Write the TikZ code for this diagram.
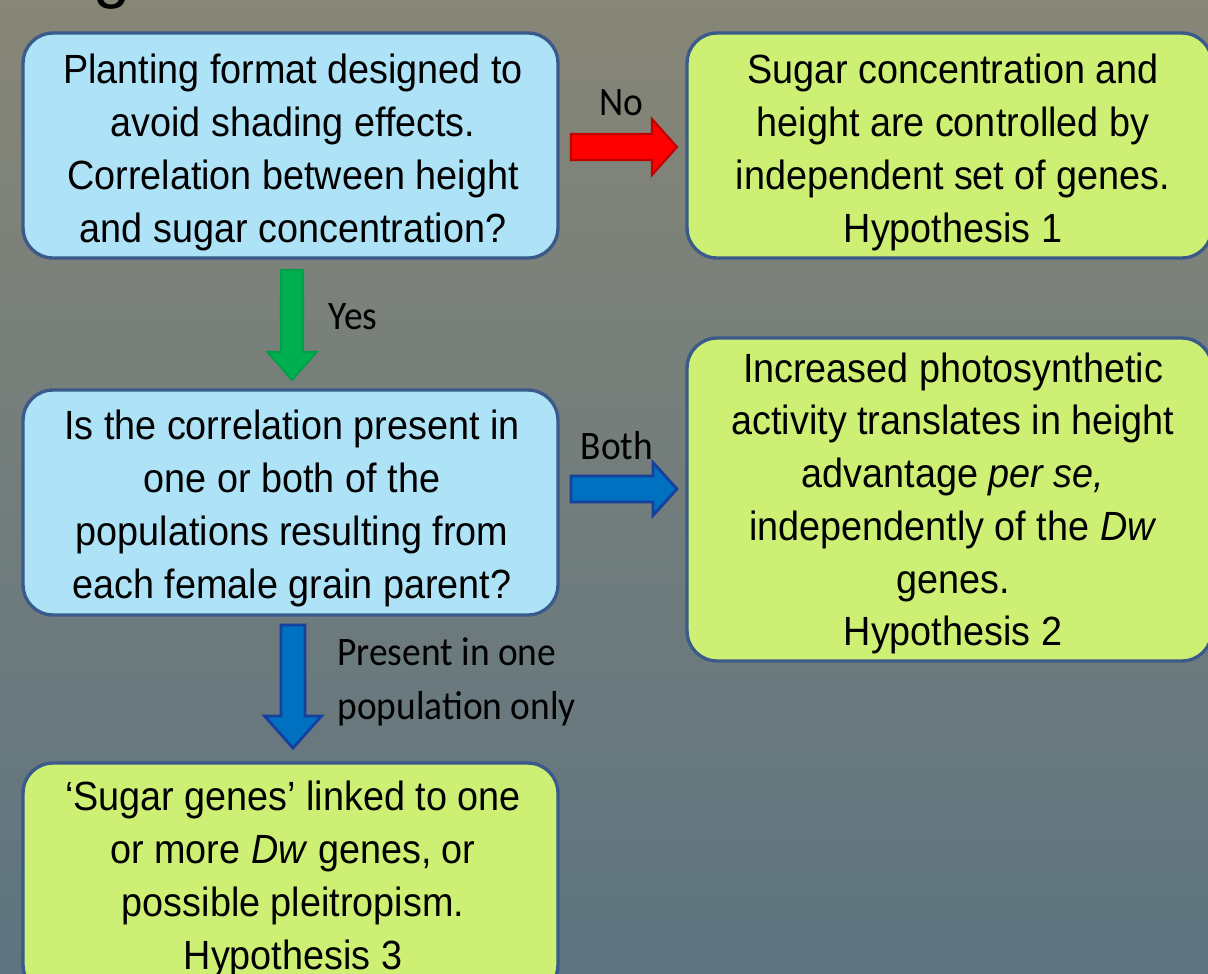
\documentclass[tikz,border=0pt]{standalone}
\usepackage{fontspec}
\setmainfont{Liberation Sans}
\newfontfamily\lblfont{Carlito}
\usetikzlibrary{shadows}
\definecolor{bgtop}{HTML}{878677}
\definecolor{bgmid}{HTML}{747B7A}
\definecolor{bgbot}{HTML}{5E7480}
\definecolor{boxborder}{HTML}{3A5B8A}
\definecolor{bluefill}{HTML}{ADE2F7}
\definecolor{greenfill}{HTML}{CDF074}
\definecolor{redfill}{HTML}{FF0000}
\definecolor{redline}{HTML}{C00000}
\definecolor{grnfill}{HTML}{00B050}
\definecolor{grnline}{HTML}{00A048}
\definecolor{bluarrfill}{HTML}{0070C0}
\definecolor{bluarrline}{HTML}{16409E}
\newcommand{\boxtext}[1]{\scalebox{1}[1.08]{\begin{tabular}{@{}c@{}}#1\end{tabular}}}
\newcommand{\lbltext}[1]{\scalebox{1}[1.08]{\begin{tabular}{@{}l@{}}#1\end{tabular}}}
\begin{document}
\begin{tikzpicture}[x=0.02cm, y=-0.02cm,
  boxbase/.style={draw=boxborder, line width=1.9pt, rounded corners=0.6cm,
    drop shadow={shadow xshift=0pt, shadow yshift=-0.07cm, opacity=0.35}},
  bluebox/.style={boxbase, fill=bluefill},
  greenbox/.style={boxbase, fill=greenfill},
  boxtxt/.style={font=\fontsize{21.5}{27.8}\selectfont, inner sep=0pt},
  lbl/.style={font=\lblfont\fontsize{21.3}{28.3}\selectfont, inner sep=0pt},
  redarrow/.style={fill=redfill, draw=redline, line width=1.2pt, line join=miter},
  greenarrow/.style={fill=grnfill, draw=grnline, line width=1.2pt, line join=miter},
  bluearrow/.style={fill=bluarrfill, draw=bluarrline, line width=1.6pt, line join=miter}]
\useasboundingbox (0,0) rectangle (1208,974);
\shade[top color=bgtop, middle color=bgmid, bottom color=bgbot] (0,0) rectangle (1208,974);
% cut-off title letter
\node[font=\fontsize{38}{40}\selectfont, anchor=base, inner sep=0pt] (title) at (112,-5) {g};
% boxes
\node[bluebox, minimum width=10.70cm, minimum height=4.50cm] (b1) at (290.5,145.5) {};
\node[greenbox, minimum width=10.50cm, minimum height=4.50cm] (b2) at (949.5,145.5) {};
\node[bluebox, minimum width=10.70cm, minimum height=4.50cm] (b3) at (290.5,502.5) {};
\node[greenbox, minimum width=10.50cm, minimum height=6.46cm] (b4) at (949.5,499.5) {};
\node[greenbox, minimum width=10.70cm, minimum height=4.64cm] (b5) at (290.5,879) {};
% texts
\node[boxtxt] (t1) at (293,152.5) {\boxtext{Planting format designed to\\avoid shading effects.\\Correlation between height\\and sugar concentration?}};
\node[boxtxt] (t2) at (953,152.5) {\boxtext{Sugar concentration and\\height are controlled by\\independent set of genes.\\Hypothesis 1}};
\node[boxtxt] (t3) at (292,508.5) {\boxtext{Is the correlation present in\\one or both of the\\populations resulting from\\each female grain parent?}};
\node[boxtxt] (t4) at (953,503.5) {\boxtext{Increased photosynthetic\\activity translates in height\\advantage \textit{per se,}\\independently of the \textit{Dw}\\genes.\\Hypothesis 2}};
\node[boxtxt] (t5) at (293,879.5) {\boxtext{‘Sugar genes’ linked to one\\or more \textit{Dw} genes, or\\possible pleitropism.\\Hypothesis 3}};
% block arrows
\coordinate (a1) at (571,147);
\coordinate (a2) at (571,489);
\coordinate (a3) at (292,270);
\coordinate (a4) at (293,625);
\draw[redarrow] (a1) ++(0,-13) -- ++(81,0) -- ++(0,-15) -- ++(25,28) -- ++(-25,28) -- ++(0,-15) -- ++(-81,0) -- cycle;
\draw[bluearrow] (a2) ++(0,-13) -- ++(82,0) -- ++(0,-13.5) -- ++(24,26.5) -- ++(-24,26.5) -- ++(0,-13.5) -- ++(-82,0) -- cycle;
\draw[greenarrow] (a3) ++(-11,0) -- ++(0,82) -- ++(-13.5,0) -- ++(24.5,28) -- ++(24.5,-28) -- ++(-13.5,0) -- ++(0,-82) -- cycle;
\draw[bluearrow] (a4) ++(-12,0) -- ++(0,91) -- ++(-16.5,0) -- ++(28.5,32) -- ++(28.5,-32) -- ++(-16.5,0) -- ++(0,-91) -- cycle;
% labels
\node[lbl] (lno) at (621,105) {\lbltext{No}};
\node[lbl] (lyes) at (353,319) {\lbltext{Yes}};
\node[lbl] (lboth) at (617,449) {\lbltext{Both}};
\node[lbl, anchor=west] (lpres) at (337,682) {\lbltext{Present in one\\population only}};
\end{tikzpicture}
\end{document}
